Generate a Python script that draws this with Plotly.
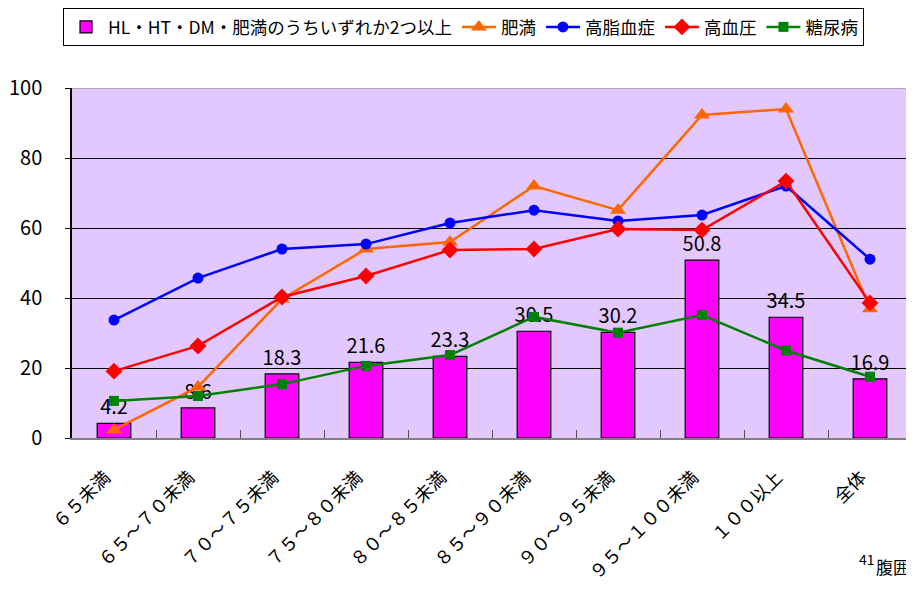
import plotly.graph_objects as go

categories = ["６５未満", "６５～７０未満", "７０～７５未満", "７５～８０未満", "８０～８５未満",
              "８５～９０未満", "９０～９５未満", "９５～１００未満", "１００以上", "全体"]
multi = [4.2, 8.6, 18.3, 21.6, 23.3, 30.5, 30.2, 50.8, 34.5, 16.9]
obesity = [2.3, 14.6, 39.7, 54.0, 56.0, 72.0, 65.1, 92.3, 94.0, 36.9]
hyperlipidemia = [33.7, 45.7, 54.0, 55.4, 61.4, 65.1, 62.0, 63.7, 72.0, 51.1]
hypertension = [19.1, 26.3, 40.3, 46.3, 53.7, 54.0, 59.7, 59.4, 73.4, 38.6]
diabetes = [10.6, 12.0, 15.4, 20.6, 23.7, 34.6, 30.1, 35.1, 25.0, 17.5]

FONT = "Noto Sans CJK JP"

fig = go.Figure()

fig.add_trace(go.Bar(
    x=categories, y=multi,
    name="HL・HT・DM・肥満のうちいずれか2つ以上",
    marker=dict(color="#FF00FF", line=dict(color="black", width=1.2)),
    width=0.4,
    text=[f"{v:.1f}" for v in multi],
    textposition="outside",
    constraintext="none",
    textfont=dict(size=20, color="black", family=FONT),
    cliponaxis=False,
))

lines = [
    ("肥満", obesity, "#FF6600", "triangle-up", 14),
    ("高脂血症", hyperlipidemia, "#0000FF", "circle", 11),
    ("高血圧", hypertension, "#FF0000", "diamond", 13),
    ("糖尿病", diabetes, "#008000", "square", 10),
]
for name, vals, color, symbol, size in lines:
    fig.add_trace(go.Scatter(
        x=categories, y=vals, name=name,
        mode="lines+markers",
        line=dict(color=color, width=2.5),
        marker=dict(symbol=symbol, size=size, color=color),
        cliponaxis=False,
    ))

# page number and axis caption, bottom-right corner
fig.add_annotation(
    text="41", xref="paper", yref="paper", x=0.947, y=-0.345,
    xanchor="center", yanchor="middle", showarrow=False,
    font=dict(size=14, color="black", family=FONT),
)
fig.add_annotation(
    text="腹囲", xref="paper", yref="paper", x=1.0, y=-0.366,
    xanchor="right", yanchor="middle", showarrow=False,
    font=dict(size=17, color="black", family=FONT),
)

# the page body keeps an 8px margin around the figure
fig.update_layout(
    width=904, height=573,
    margin=dict(l=64, r=0, t=80, b=143),
    paper_bgcolor="white",
    plot_bgcolor="#E2C8FF",
    font=dict(family=FONT, color="black"),
    legend=dict(
        orientation="h",
        xref="container", yref="container",
        x=55 / 904, y=1.0, xanchor="left", yanchor="top",
        bgcolor="white", bordercolor="black", borderwidth=1,
        font=dict(size=17.5, family=FONT),
        itemwidth=34, tracegroupgap=0,
    ),
    xaxis=dict(
        type="category",
        range=[-0.5, len(categories) - 0.5],
        tickangle=-45,
        tickfont=dict(size=18, family=FONT),
        ticks="inside", tickson="boundaries", ticklen=8, tickcolor="#555555",
        showline=True, linecolor="#808080", linewidth=1.5,
        showgrid=False,
        ticklabelstandoff=20,
        ticklabelshift=-9,
        automargin=False,
    ),
    yaxis=dict(
        range=[0, 100], dtick=20,
        tickfont=dict(size=20, family=FONT),
        ticks="outside", ticklen=5, tickcolor="black",
        showline=True, linecolor="black", linewidth=1.5,
        gridcolor="black", gridwidth=1,
        zeroline=False,
        ticklabelstandoff=19,
        automargin=False,
    ),
)

fig.add_shape(type="line", xref="paper", yref="y", x0=0, x1=1, y0=100, y1=100,
              line=dict(color="#A0A0A0", width=1.5))

fig.write_html("out.html")
